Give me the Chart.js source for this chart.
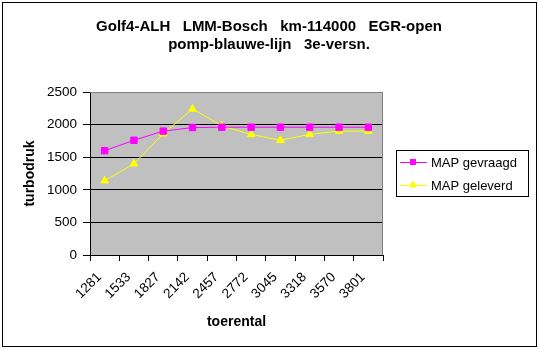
<!DOCTYPE html>
<html>
<head>
<meta charset="utf-8">
<script src="https://cdn.jsdelivr.net/npm/chart.js@4/dist/chart.umd.min.js"></script>
<style>
  html, body { margin: 0; padding: 0; background: #fff; }
  #wrap { position: relative; width: 538px; height: 351px; }
  #frame { position: absolute; left: 2px; top: 2px; width: 533px; height: 343px; border: 1px solid #000; pointer-events: none; }
</style>
</head>
<body>
<div id="wrap">
  <canvas id="myChart" width="538" height="351"></canvas>
  <div id="frame"></div>
</div>
<script>
// toerental (rpm)
const labels = ['1281', '1533', '1827', '2142', '2457', '2772', '3045', '3318', '3570', '3801']

// turbodruk
const mapGevraagd = [1600, 1760, 1900, 1955, 1960, 1960, 1960, 1960, 1960, 1960]
const mapGeleverd = [1140, 1400, 1860, 2240, 1980, 1850, 1760, 1850, 1900, 1900]

const yTicks = [0, 500, 1000, 1500, 2000, 2500]

const font = "'Liberation Sans', Arial, sans-serif"

// grey plot area like the Excel original
const plotArea = {
  id: 'plotArea',
  beforeDraw (chart) {
    const { ctx, chartArea: a } = chart
    ctx.save()
    ctx.fillStyle = '#fff'
    ctx.fillRect(0, 0, chart.width, chart.height)
    ctx.fillStyle = '#c0c0c0'
    ctx.fillRect(a.left, a.top, a.right - a.left, a.bottom - a.top)
    ctx.restore()
  },
  beforeDatasetsDraw (chart) {
    const { ctx, chartArea: a } = chart
    ctx.save()
    ctx.strokeStyle = '#808080'
    ctx.lineWidth = 1
    ctx.beginPath()
    ctx.moveTo(a.left, a.top + 0.5)
    ctx.lineTo(a.right - 0.5, a.top + 0.5)
    ctx.lineTo(a.right - 0.5, a.bottom)
    ctx.stroke()
    ctx.restore()
  }
}

// boxed legend with line + marker, drawn to the right of the plot
const boxLegend = {
  id: 'boxLegend',
  afterDraw (chart) {
    const { ctx, chartArea: a } = chart
    const x = a.right + 13
    const w = 132
    const h = 46
    const y = Math.round((a.top + a.bottom) / 2 - h / 2) - 1
    ctx.save()
    ctx.strokeStyle = '#000'
    ctx.lineWidth = 1
    ctx.strokeRect(x + 0.5, y + 0.5, w, h)
    ctx.font = '13px ' + font
    ctx.textBaseline = 'middle'
    ctx.fillStyle = '#000'
    chart.data.datasets.forEach((ds, i) => {
      const cy = y + 12 + i * 23
      ctx.strokeStyle = ds.borderColor
      ctx.beginPath()
      ctx.moveTo(x + 4, cy + 0.5)
      ctx.lineTo(x + 31, cy + 0.5)
      ctx.stroke()
      if (Chart.helpers && Chart.helpers.drawPoint) {
        Chart.helpers.drawPoint(ctx, {
          pointStyle: ds.pointStyle,
          radius: 3.5,
          borderWidth: 1
        }, x + 17, cy)
      }
      ctx.fillStyle = ds.pointBackgroundColor
      ctx.strokeStyle = ds.pointBorderColor
      ctx.fill()
      ctx.stroke()
      ctx.fillStyle = '#000'
      ctx.fillText(ds.label, x + 35, cy + 1)
    })
    ctx.restore()
  }
}

const ctx = document.getElementById('myChart')

new Chart(ctx, {
  type: 'line',
  data: {
    labels,
    datasets: [
      {
        label: 'MAP gevraagd',
        data: mapGevraagd,
        borderColor: '#ff00ff',
        borderWidth: 1,
        pointStyle: 'rect',
        pointRadius: 4.5,
        pointBackgroundColor: '#ff00ff',
        pointBorderColor: '#ff00ff',
        tension: 0
      },
      {
        label: 'MAP geleverd',
        data: mapGeleverd,
        borderColor: '#ffff00',
        borderWidth: 1,
        pointStyle: 'triangle',
        pointRadius: 4.5,
        pointBackgroundColor: '#ffff00',
        pointBorderColor: '#ffff00',
        tension: 0
      }
    ]
  },
  options: {
    responsive: false,
    animation: false,
    layout: { padding: 0 },
    plugins: {
      legend: { display: false },
      tooltip: { enabled: false },
      title: {
        display: true,
        text: ['Golf4-ALH   LMM-Bosch   km-114000   EGR-open', 'pomp-blauwe-lijn   3e-versn.'],
        color: '#000',
        font: { family: font, size: 15, weight: 'bold', lineHeight: 1.2 },
        padding: { top: 18, bottom: 38 }
      }
    },
    scales: {
      x: {
        offset: true,
        afterFit: (scale) => { scale.height = 96 },
        grid: { offset: true, drawOnChartArea: false, drawTicks: true, tickLength: 6, color: '#000' },
        border: { color: '#000' },
        ticks: {
          color: '#000',
          font: { family: font, size: 13.5 },
          maxRotation: 45,
          minRotation: 45,
          padding: 3,
          autoSkip: false,
          // trailing spaces pull the rotated label a little left/down, as in Excel
          callback: (v, i) => labels[i] + '  '
        },
        title: { display: true, text: 'toerental', color: '#000', font: { family: font, size: 14, weight: 'bold' }, padding: { bottom: 20 } }
      },
      y: {
        min: 0,
        max: 2500,
        afterFit: (scale) => { scale.width = 90 },
        afterBuildTicks: (scale) => { scale.ticks = yTicks.map(v => ({ value: v })) },
        grid: {
          color: (c) => c.tick && c.tick.value === 2500 ? '#808080' : '#000',
          tickColor: '#000',
          tickLength: 7
        },
        border: { color: '#000' },
        ticks: { color: '#000', font: { family: font, size: 13.5 }, padding: 6, callback: (v) => String(v) },
        title: { display: true, text: 'turbodruk', color: '#000', font: { family: font, size: 14, weight: 'bold' }, padding: { top: 22 } }
      },
      // empty right-hand scale that only reserves room for the legend
      legendSpace: {
        type: 'linear',
        position: 'right',
        afterFit: (scale) => { scale.width = 155 },
        grid: { display: false },
        border: { display: false },
        ticks: { display: false }
      }
    }
  },
  plugins: [plotArea, boxLegend]
})
</script>
</body>
</html>
